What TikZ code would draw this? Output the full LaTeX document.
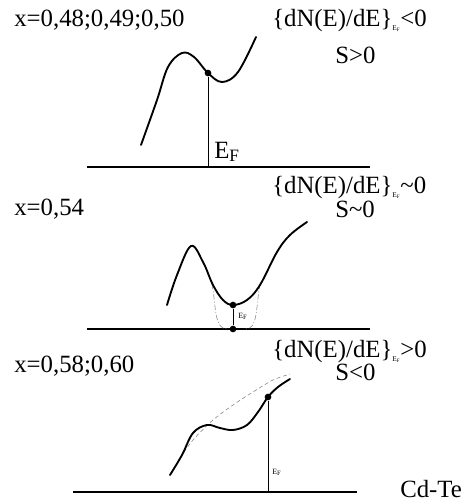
\documentclass[tikz,border=0pt]{standalone}
\usepackage{fontspec}
\setmainfont{Liberation Serif}
\usetikzlibrary{positioning}
\newcommand{\efsub}{\raisebox{-0.4ex}{\fontsize{5.5}{6}\selectfont E\textsubscript{F}}}
\tikzset{
  dos/.style={line width=1.4pt,line cap=round},
  axis/.style={line width=0.9pt},
  level/.style={line width=0.6pt},
  lbl/.style={anchor=base west,inner sep=0pt,font=\fontsize{18.6}{20}\selectfont},
  tinylbl/.style={anchor=base west,inner sep=0pt,font=\fontsize{6}{6}\selectfont},
  dot/.style={circle,fill,inner sep=0pt,minimum size=5pt},
  guide/.style={line width=0.4pt,gray,dash pattern=on 4pt off 1.5pt on 0.8pt off 1.5pt},
  guidedash/.style={line width=0.4pt,gray,dash pattern=on 3pt off 2pt}
}

\begin{document}
\begin{tikzpicture}[x=0.75pt,y=-0.75pt]
  \useasboundingbox (0,0) rectangle (465,501);
  % first panel
  \node[lbl] (titleA) at (14,26) {x=0,48;0,49;0,50};
  \node[lbl] (condA) at (272,26) {\{dN(E)/dE\}\efsub{}<0};
  \node[lbl] (signA) at (335,63) {S>0};
  \coordinate (leftA) at (87,167);
  \coordinate (rightA) at (370,167);
  \node[dot] (efA) at (208,73) {};
  \coordinate (footA) at (208,167);
  \draw[axis] (leftA) -- (rightA);
  \draw[level] (efA) -- (footA);
  \draw[dos] plot[smooth,tension=0.6] coordinates {(141,145) (157,100) (168,67) (182,53) (194,57) (208,73) (222,82) (238,72) (256,37)};
  \node[lbl] (labA) at (214,158) {E\textsubscript{F}};
  % second panel
  \node[lbl] (condB) at (272,193) {\{dN(E)/dE\}\efsub{}\textasciitilde0};
  \node[lbl] (titleB) at (14,215) {x=0,54};
  \node[lbl] (signB) at (335,217) {S\textasciitilde0};
  \coordinate (leftB) at (87,329);
  \coordinate (rightB) at (370,329);
  \draw[axis] (leftB) -- (rightB);
  \draw[guide] (212,284) .. controls (216,305) and (214,329) .. (227,329);
  \draw[guide] (260,284) .. controls (256,305) and (258,329) .. (246,329);
  \draw[dos] plot[smooth,tension=0.6] coordinates {(167,305) (177,275) (191,246) (203,262) (213,285) (223,300) (233,305) (247,300) (260,285) (277,252) (290,235) (307,222)};
  \node[dot] (efB) at (233,305) {};
  \node[dot] (footB) at (233,329) {};
  \draw[level] (efB) -- (footB);
  \node[tinylbl] (labB) at (238,318) {E\textsubscript{F}};
  % third panel
  \node[lbl] (condC) at (272,357) {\{dN(E)/dE\}\efsub{}>0};
  \node[lbl] (titleC) at (14,372) {x=0,58;0,60};
  \node[lbl] (signC) at (335,380) {S<0};
  \coordinate (leftC) at (73,492);
  \coordinate (rightC) at (357,492);
  \draw[axis] (leftC) -- (rightC);
  \draw[guidedash] plot[smooth] coordinates {(180,458) (193,440) (213,420) (233,405) (253,392) (273,380) (290,374)};
  \draw[dos] plot[smooth,tension=0.6] coordinates {(170,475) (182,455) (193,433) (207,425) (220,428) (233,430) (247,425) (258,412) (268,397) (278,387) (290,379)};
  \node[dot] (efC) at (268,397) {};
  \coordinate (footC) at (268,492);
  \draw[level] (efC) -- (footC);
  \node[tinylbl] (labC) at (272,474) {E\textsubscript{F}};
  \node[lbl] (alloy) at (400,497) {Cd-Te};
\end{tikzpicture}
\end{document}
